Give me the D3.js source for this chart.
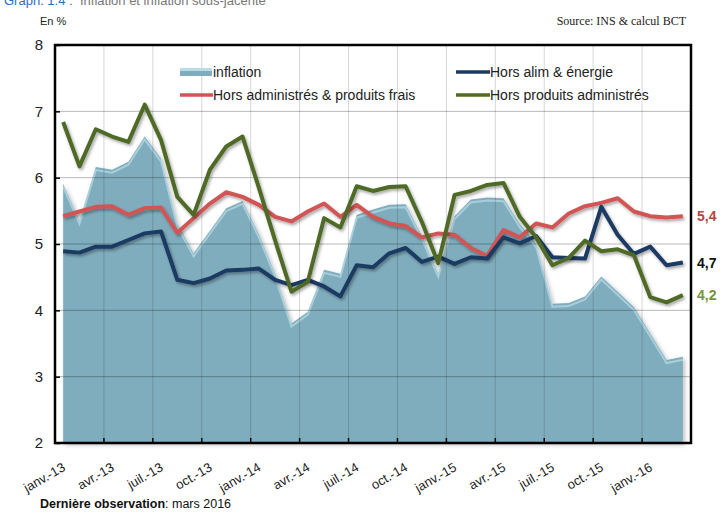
<!DOCTYPE html>
<html><head><meta charset="utf-8">
<script src="https://cdn.jsdelivr.net/npm/d3@7"></script>
<style>
html,body{margin:0;padding:0;background:#fff;}
svg{display:block;font-family:"Liberation Sans",Arial,sans-serif;}
</style></head>
<body><svg id="c" width="721" height="513"></svg>
<script>
const monthNames = ["janv.","févr.","mars","avr.","mai","juin","juil.","août","sept.","oct.","nov.","déc."];
const months = [];
for (let y = 13; y <= 16; y++) for (let m = 0; m < 12; m++) { if (y === 16 && m > 2) break; months.push(monthNames[m] + "-" + y); }
const tickLabels = ["janv.-13","avr.-13","juil.-13","oct.-13","janv.-14","avr.-14","juil.-14","oct.-14","janv.-15","avr.-15","juil.-15","oct.-15","janv.-16"];
const yTicks = [2,3,4,5,6,7,8];

const inflation = [5.91,5.35,6.16,6.12,6.24,6.62,6.29,5.31,4.86,5.20,5.54,5.65,5.15,4.55,3.80,3.98,4.61,4.55,5.44,5.52,5.59,5.60,5.12,4.55,5.42,5.67,5.70,5.69,5.30,5.00,4.10,4.11,4.21,4.51,4.28,4.05,3.65,3.25,3.30];
const horsAlim = [4.89,4.87,4.96,4.96,5.06,5.16,5.19,4.46,4.41,4.48,4.60,4.61,4.63,4.46,4.38,4.46,4.36,4.21,4.68,4.65,4.86,4.94,4.73,4.81,4.70,4.80,4.78,5.10,5.01,5.12,4.80,4.79,4.78,5.56,5.14,4.85,4.96,4.68,4.72];
const horsAdmFrais = [5.42,5.49,5.56,5.57,5.44,5.54,5.55,5.17,5.39,5.61,5.78,5.71,5.59,5.41,5.34,5.49,5.61,5.41,5.59,5.41,5.31,5.27,5.10,5.16,5.14,4.94,4.82,5.21,5.10,5.31,5.25,5.46,5.57,5.62,5.69,5.49,5.42,5.40,5.42];
const horsAdm = [6.84,6.17,6.73,6.62,6.54,7.10,6.57,5.71,5.44,6.12,6.47,6.62,5.85,5.05,4.28,4.43,5.39,5.25,5.87,5.80,5.86,5.87,5.33,4.71,5.74,5.80,5.89,5.92,5.41,5.10,4.68,4.79,5.05,4.89,4.92,4.83,4.20,4.12,4.23];
const endLabels = ["5,4","4,7","4,2"];

const svg = d3.select("#c");
const L = 55, R = 691, T = 45, B = 443;
const x = d3.scaleBand().domain(months).range([L, R]).padding(0);
const cx = m => x(m) + x.bandwidth() / 2;
const y = d3.scaleLinear().domain([2, 8]).range([B, T]);

const defs = svg.append("defs");
const f = defs.append("filter").attr("id","sh").attr("x","-10%").attr("y","-10%").attr("width","120%").attr("height","130%");
f.append("feDropShadow").attr("dx",1.5).attr("dy",2).attr("stdDeviation",1.5).attr("flood-color","#000").attr("flood-opacity",0.35);
const fa = defs.append("filter").attr("id","sha").attr("x","-10%").attr("y","-10%").attr("width","120%").attr("height","130%");
fa.append("feDropShadow").attr("dx",2).attr("dy",2).attr("stdDeviation",2).attr("flood-color","#000").attr("flood-opacity",0.25);

// title (partly cut off at the top, as in the source)
svg.append("text").attr("x", 4).attr("y", 5).attr("font-size", 13).attr("fill", "#2f6eb5").text("Graph. 1.4 :");
svg.append("text").attr("x", 80).attr("y", 5).attr("font-size", 13).attr("fill", "#777").text("Inflation et inflation sous-jacente");

svg.append("text").attr("x", 40).attr("y", 25).attr("font-size", 11).attr("fill", "#222").text("En %");
svg.append("text").attr("x", 686).attr("y", 25).attr("text-anchor","end").attr("font-size", 12)
  .attr("font-family","'Liberation Serif','Times New Roman',serif").attr("fill","#222").text("Source:  INS & calcul BCT");

// area
const area = d3.area().x((d,i) => cx(months[i])).y0(B).y1(d => y(d));
svg.append("path").datum(inflation).attr("d", area).attr("fill", "#80adbd").attr("filter","url(#sha)");
// bevel highlight
const hl = d3.line().x((d,i) => cx(months[i])).y(d => y(d) + 3);
svg.append("path").datum(inflation).attr("d", hl).attr("fill","none").attr("stroke","#c7eaf2").attr("stroke-width",2).attr("opacity",0.55);

// gridlines
svg.append("g").selectAll("line").data(yTicks.filter(v => v > 2 && v < 8)).join("line")
  .attr("x1", L).attr("x2", R).attr("y1", d => y(d)).attr("y2", d => y(d))
  .attr("stroke", "#000").attr("stroke-opacity", 0.28).attr("stroke-width", 1);
const vTicks = d3.range(3, months.length, 3).map(i => x(months[i]));
svg.append("g").selectAll("line").data(vTicks).join("line")
  .attr("x1", d => d).attr("x2", d => d).attr("y1", T).attr("y2", B)
  .attr("stroke", "#000").attr("stroke-opacity", 0.16).attr("stroke-width", 1);

// lines
const line = d3.line().x((d,i) => cx(months[i])).y(d => y(d));
const series = [
  {data: horsAdmFrais, color: "#d15454"},
  {data: horsAlim, color: "#1b3a63"},
  {data: horsAdm, color: "#4f6b26"}
];
series.forEach(s => {
  svg.append("path").datum(s.data).attr("d", line).attr("fill","none").attr("stroke", s.color)
    .attr("stroke-width", 4).attr("stroke-linejoin","round").attr("filter","url(#sh)");
});

// frame
svg.append("rect").attr("x", L).attr("y", T).attr("width", R - L).attr("height", B - T)
  .attr("fill","none").attr("stroke","#000").attr("stroke-width", 2.5);

// y axis
const yAxis = svg.append("g").attr("transform", `translate(${L},0)`)
  .call(d3.axisLeft(y).tickValues(yTicks).tickSize(-5).tickPadding(12).tickFormat(d3.format("d")));
yAxis.select(".domain").remove();
yAxis.selectAll(".tick line").attr("stroke","#000").attr("stroke-width",1.5);
yAxis.selectAll("text").attr("font-size", 15).attr("fill","#222").attr("font-family","'Liberation Sans Narrow','Liberation Sans',Arial,sans-serif");

// x ticks
svg.append("g").selectAll("line").data(vTicks).join("line")
  .attr("x1", d => d).attr("x2", d => d).attr("y1", B - 5).attr("y2", B)
  .attr("stroke","#000").attr("stroke-width",1.5);
svg.append("g").selectAll("text").data(tickLabels).join("text")
  .attr("transform", d => `translate(${cx(d) + 3},${B + 27}) rotate(-30)`)
  .attr("text-anchor","end").attr("font-size", 13).attr("fill","#222").text(d => d);

// legend
const lg = svg.append("g");
lg.append("rect").attr("x", 180).attr("y", 68).attr("width", 32).attr("height", 8).attr("fill","#80adbd");
lg.append("rect").attr("x", 180).attr("y", 68).attr("width", 32).attr("height", 3).attr("fill","#b9dde6");
const legItems = [
  {x: 213, y: 77, sx: null, label: "inflation"},
  {x: 213, y: 100, sx: 180, color: "#d15454", label: "Hors administrés & produits frais"},
  {x: 490, y: 77, sx: 456, color: "#1b3a63", label: "Hors alim & énergie"},
  {x: 490, y: 100, sx: 456, color: "#4f6b26", label: "Hors produits administrés"}
];
legItems.forEach(it => {
  if (it.sx !== null) lg.append("line").attr("x1", it.sx).attr("x2", it.x).attr("y1", it.y - 5).attr("y2", it.y - 5)
    .attr("stroke", it.color).attr("stroke-width", 3.5);
  lg.append("text").attr("x", it.x).attr("y", it.y).attr("font-size", 14).attr("fill","#222").text(it.label);
});

// end labels
const endSeries = [horsAdmFrais, horsAlim, horsAdm];
const endColors = ["#b6473f", "#111", "#76923c"];
endLabels.forEach((t, i) => {
  svg.append("text").attr("x", 697).attr("y", y(endSeries[i][38]) + 5).attr("font-size", 14).attr("font-weight","bold")
    .attr("font-family","'Liberation Sans Narrow','Liberation Sans',Arial,sans-serif").attr("fill", endColors[i]).text(t);
});

// footer
const ft = svg.append("text").attr("x", 40).attr("y", 508).attr("font-size", 12.5).attr("fill","#111");
ft.append("tspan").attr("font-weight","bold").text("Dernière observation");
ft.append("tspan").text(":  mars 2016");
</script></body></html>
